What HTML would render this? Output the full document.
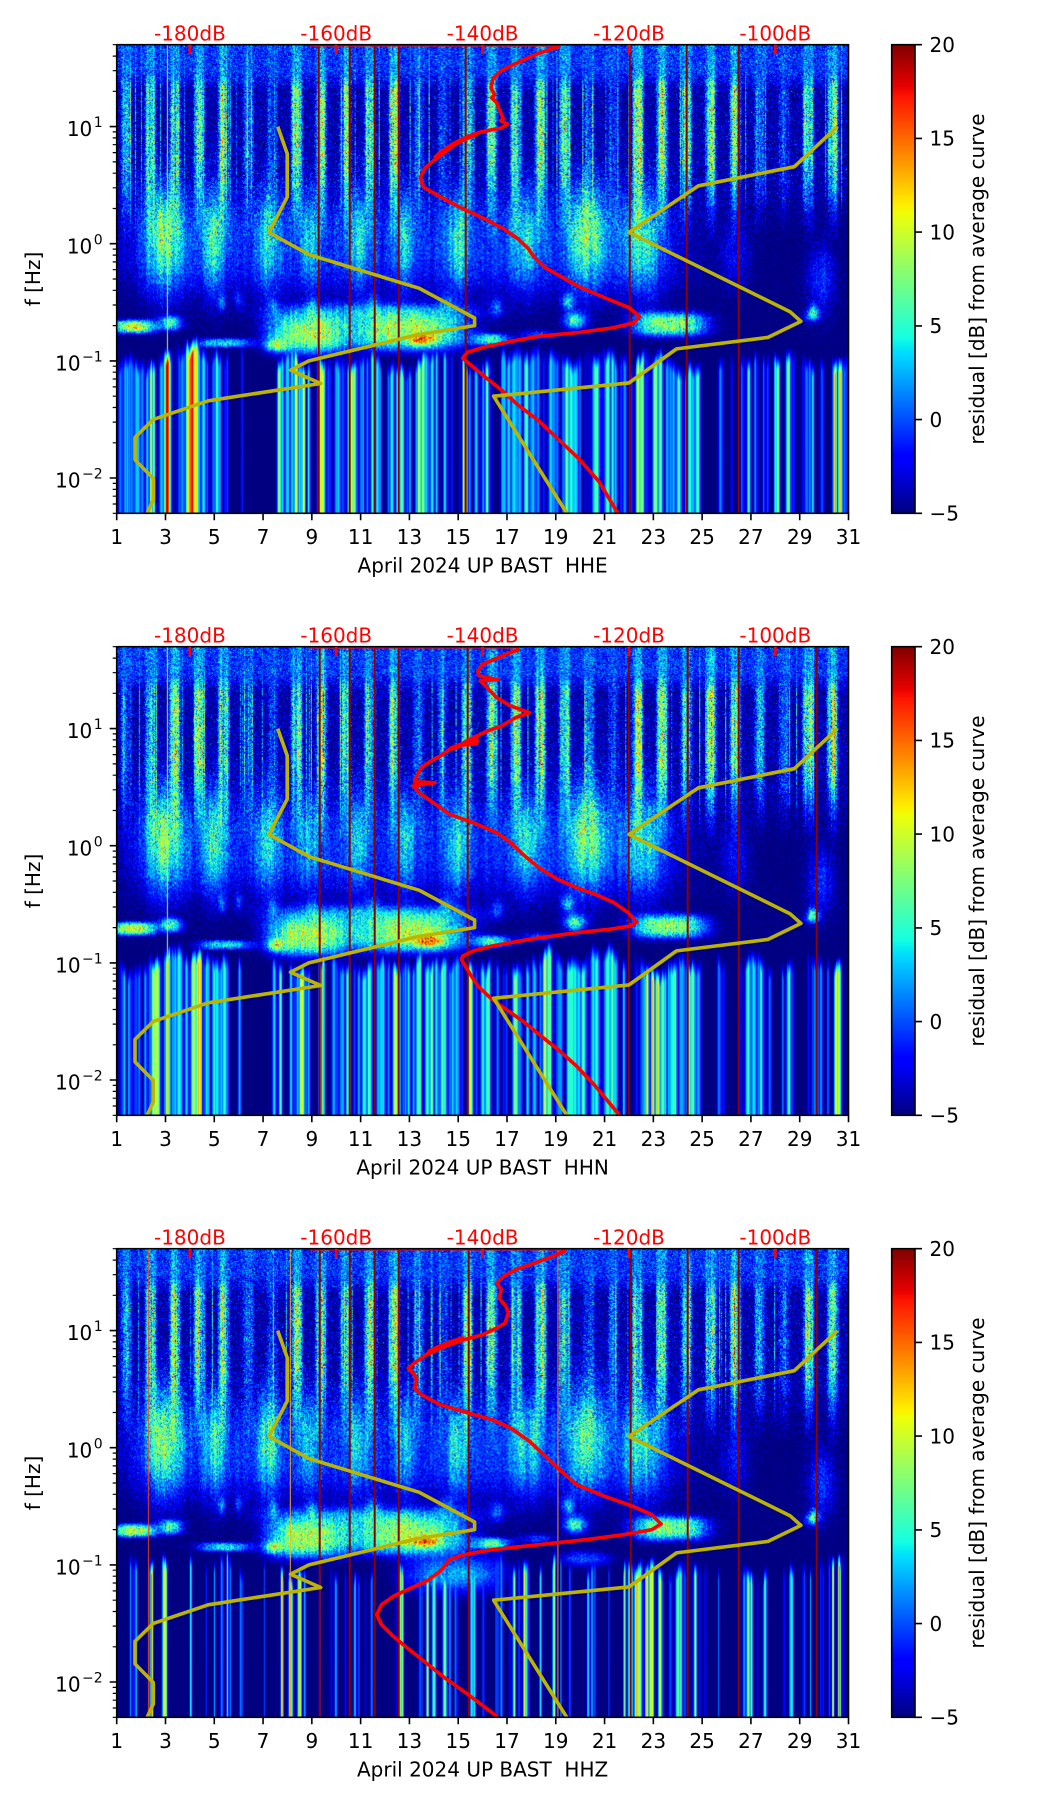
<!DOCTYPE html>
<html><head><meta charset="utf-8">
<style>
html,body{margin:0;padding:0;background:#fff;}
#fig{position:relative;width:1052px;height:1806px;overflow:hidden;background:#fff;}
canvas{position:absolute;display:block;}
svg{position:absolute;left:0;top:0;}
text{font-family:"DejaVu Sans","Liberation Sans",sans-serif;font-size:20px;}
</style></head><body>
<div id="fig">
<canvas id="c0" width="732" height="469" style="left:116.7px;top:44.7px;width:731.8px;height:468.6px"></canvas>
<canvas id="c1" width="732" height="469" style="left:116.7px;top:646.7px;width:731.8px;height:468.6px"></canvas>
<canvas id="c2" width="732" height="469" style="left:116.7px;top:1248.7px;width:731.8px;height:468.6px"></canvas>
<svg width="1052" height="1806" viewBox="0 0 1052 1806">
<defs>
<clipPath id="ax"><rect x="0" y="0" width="731.8" height="468.6"/></clipPath>
<linearGradient id="jet" x1="0" y1="1" x2="0" y2="0">
<stop offset="0" stop-color="#000080"/><stop offset="0.11" stop-color="#0000ff"/><stop offset="0.125" stop-color="#0000ff"/>
<stop offset="0.34" stop-color="#00dbff"/><stop offset="0.35" stop-color="#00e5f7"/><stop offset="0.375" stop-color="#14ffe2"/>
<stop offset="0.64" stop-color="#effe08"/><stop offset="0.65" stop-color="#f7f500"/><stop offset="0.66" stop-color="#ffec00"/>
<stop offset="0.89" stop-color="#ff1300"/><stop offset="0.91" stop-color="#e80000"/><stop offset="1" stop-color="#800000"/>
</linearGradient>
</defs>

<!-- ================= PANEL 1 ================= -->
<g transform="translate(116.7,44.7)">
<g clip-path="url(#ax)">
<path d="M202,0v469M233,0v469M258,0v469M282,0v469M349,0v469M513,0v469M570,0v469M622,0v469" stroke="#8c0000" stroke-width="2"/>
<polyline fill="none" stroke="#ff0000" stroke-width="3.6" stroke-linejoin="round" points="192,0 441.8,0 441.8,1.9 421.6,8.8 401.3,17.6 384.5,26 376.4,33.6 374.3,43.2 378,50 375,53 380,58 382.4,64.2 386.5,73.8 384,76 391.2,79.5 384.5,83.3 364.2,87.1 350.7,92.9 337.3,100.5 327.1,108.2 317,115.8 308.2,123.4 303.5,133 306.9,142.6 317,148.3 330.5,155.9 347.4,164.7 367.6,173.9 387.8,184.6 401.3,194.2 411.4,203.7 418.2,213.3 428.3,222.8 441.8,230.5 462,241.9 489,253.4 512.6,263 522.7,271.7 517.3,278.2 495.8,283.2 462,287.8 421.6,291.6 394.6,296.6 367.6,302.3 350.7,307.7 346,313.4 354.1,320.3 367.6,331.7 384.5,345.1 401.3,360.4 421.6,375.7 441.8,394.8 462,413.9 482.3,436.9 501.2,468.6 502,472"/>
<polyline fill="none" stroke="#ff0000" stroke-width="5" points="360,89 348,94 338,99 330,104 322,110 318,114"/>
<polyline fill="none" stroke="#bcb400" stroke-width="3.6" stroke-linejoin="round" points="161.0,81.9 170.5,108.9 170.5,152.4 152.2,187.7 192.5,210.0 302.6,243.6 357.9,273.3 357.9,280.9 300.0,290.2 192.1,316.2 173.8,325.5 204.0,338.8 91.5,356.1 36.6,374.7 18.3,392.7 18.3,415.2 36.6,433.8 36.6,455.3 30.4,468.6 29,472"/>
<polyline fill="none" stroke="#bcb400" stroke-width="3.6" stroke-linejoin="round" points="720.8,81.9 677.6,122.0 581.8,141.1 512.3,187.7 673.3,267.0 684.2,276.7 651.3,292.7 559.8,304.2 512.3,338.2 376.9,351.5 450.1,468.6 451.5,472"/>
</g>
<rect x="0" y="0" width="731.8" height="468.6" fill="none" stroke="#000" stroke-width="1.6"/>
<path d="M73.2,0v9.6M219.5,0v9.6M365.9,0v9.6M512.3,0v9.6M658.6,0v9.6" stroke="#ff0000" stroke-width="2.8"/>
<g fill="#ff0000" text-anchor="middle">
<text x="73.2" y="-4">-180dB</text><text x="219.5" y="-4">-160dB</text><text x="365.9" y="-4">-140dB</text><text x="512.3" y="-4">-120dB</text><text x="658.6" y="-4">-100dB</text>
</g>
<path d="M0,468.6v7M48.79,468.6v7M97.57,468.6v7M146.36,468.6v7M195.14,468.6v7M243.93,468.6v7M292.72,468.6v7M341.5,468.6v7M390.29,468.6v7M439.07,468.6v7M487.86,468.6v7M536.65,468.6v7M585.43,468.6v7M634.22,468.6v7M683,468.6v7M731.8,468.6v7" stroke="#000" stroke-width="1.6"/>
<g text-anchor="middle" fill="#000">
<text x="0" y="499.3">1</text><text x="48.79" y="499.3">3</text><text x="97.57" y="499.3">5</text><text x="146.36" y="499.3">7</text><text x="195.14" y="499.3">9</text><text x="243.93" y="499.3">11</text><text x="292.72" y="499.3">13</text><text x="341.5" y="499.3">15</text><text x="390.29" y="499.3">17</text><text x="439.07" y="499.3">19</text><text x="487.86" y="499.3">21</text><text x="536.65" y="499.3">23</text><text x="585.43" y="499.3">25</text><text x="634.22" y="499.3">27</text><text x="683" y="499.3">29</text><text x="731.8" y="499.3">31</text>
<text x="365.9" y="528" xml:space="preserve" style="white-space:pre">April 2024 UP BAST  HHE</text>
</g>
<path d="M0,81.9h-7M0,199h-7M0,316.2h-7M0,433.3h-7" stroke="#000" stroke-width="1.6"/>
<path d="M0,468.6h-4M0,459.3h-4M0,451.5h-4M0,444.7h-4M0,438.7h-4M0,398.1h-4M0,377.4h-4M0,362.8h-4M0,351.5h-4M0,342.2h-4M0,334.3h-4M0,327.5h-4M0,321.5h-4M0,280.9h-4M0,260.3h-4M0,245.6h-4M0,234.3h-4M0,225h-4M0,217.2h-4M0,210.4h-4M0,204.4h-4M0,163.8h-4M0,143.1h-4M0,128.5h-4M0,117.2h-4M0,107.9h-4M0,100h-4M0,93.2h-4M0,87.2h-4M0,46.6h-4M0,26h-4M0,11.4h-4M0,0h-4" stroke="#000" stroke-width="1.2"/>
<g text-anchor="end" fill="#000">
<text x="-14" y="91.5">10<tspan font-size="14" dx="1.5" dy="-9">1</tspan></text>
<text x="-14" y="208.6">10<tspan font-size="14" dx="1.5" dy="-9">0</tspan></text>
<text x="-14" y="325.8">10<tspan font-size="14" dx="1.5" dy="-9">−1</tspan></text>
<text x="-14" y="442.9">10<tspan font-size="14" dx="1.5" dy="-9">−2</tspan></text>
</g>
<text transform="translate(-76.7,234.3) rotate(-90)" text-anchor="middle">f [Hz]</text>
</g>
<g transform="translate(891.7,44.7)">
<rect x="0" y="0" width="23.3" height="468.6" fill="url(#jet)" stroke="#000" stroke-width="1.6"/>
<path d="M23.3,0h7M23.3,93.7h7M23.3,187.4h7M23.3,281.2h7M23.3,374.9h7M23.3,468.6h7" stroke="#000" stroke-width="1.6"/>
<g fill="#000"><text x="37.8" y="7.3">20</text><text x="37.8" y="101">15</text><text x="37.8" y="194.7">10</text><text x="37.8" y="288.5">5</text><text x="37.8" y="382.2">0</text><text x="37.8" y="475.9">−5</text></g>
<text transform="translate(92.3,234.3) rotate(-90)" text-anchor="middle">residual [dB] from average curve</text>
</g>

<!-- ================= PANEL 2 ================= -->
<g transform="translate(116.7,646.7)">
<g clip-path="url(#ax)">
<path d="M203,0v469M233,0v469M258,0v469M282,0v469M351,0v469M512,0v469M571,0v469M622,0v469M700,0v469" stroke="#8c0000" stroke-width="2"/>
<polyline fill="none" stroke="#ff0000" stroke-width="3.6" stroke-linejoin="round" points="192,0 401.1,0 401.1,3.3 389.3,7.6 377.6,12.6 365.8,17.6 361.1,24.3 362,29 381,33 363.5,34 370.5,41 380,51 394,59.3 412.8,66 398.7,71 384.6,79.3 370.5,84.3 356.4,91 347.1,96 360,97 340,99 332.9,102.6 323.5,109.3 314.2,114.3 304.7,121 300,129.3 298,135 318,136 296.3,139.3 302.4,146 314.1,154.3 332.9,167.6 356.4,176 380,186 394,196 408.1,209.3 422.2,221 441,232.6 459.8,241 478.6,247.6 497.4,256 511.5,266 520,275.3 513.9,279.3 492.7,282.6 459.8,286 412.8,292.6 375.2,299.3 356.4,304.3 346.1,309.3 344.7,312.6 349.4,321 361.1,339.3 375.2,352.6 389.3,362.6 408.1,376 422.2,387.6 441,402.6 459.8,419.3 478.6,439.3 502.1,467.6 503,472"/>
<polyline fill="none" stroke="#ff0000" stroke-width="5" points="362,93 350,96 340,100 334,102"/>
<polyline fill="none" stroke="#bcb400" stroke-width="3.6" stroke-linejoin="round" points="161.0,81.9 170.5,108.9 170.5,152.4 152.2,187.7 192.5,210.0 302.6,243.6 357.9,273.3 357.9,280.9 300.0,290.2 192.1,316.2 173.8,325.5 204.0,338.8 91.5,356.1 36.6,374.7 18.3,392.7 18.3,415.2 36.6,433.8 36.6,455.3 30.4,468.6 29,472"/>
<polyline fill="none" stroke="#bcb400" stroke-width="3.6" stroke-linejoin="round" points="720.8,81.9 677.6,122.0 581.8,141.1 512.3,187.7 673.3,267.0 684.2,276.7 651.3,292.7 559.8,304.2 512.3,338.2 376.9,351.5 450.1,468.6 451.5,472"/>
</g>
<rect x="0" y="0" width="731.8" height="468.6" fill="none" stroke="#000" stroke-width="1.6"/>
<path d="M73.2,0v9.6M219.5,0v9.6M365.9,0v9.6M512.3,0v9.6M658.6,0v9.6" stroke="#ff0000" stroke-width="2.8"/>
<g fill="#ff0000" text-anchor="middle">
<text x="73.2" y="-4">-180dB</text><text x="219.5" y="-4">-160dB</text><text x="365.9" y="-4">-140dB</text><text x="512.3" y="-4">-120dB</text><text x="658.6" y="-4">-100dB</text>
</g>
<path d="M0,468.6v7M48.79,468.6v7M97.57,468.6v7M146.36,468.6v7M195.14,468.6v7M243.93,468.6v7M292.72,468.6v7M341.5,468.6v7M390.29,468.6v7M439.07,468.6v7M487.86,468.6v7M536.65,468.6v7M585.43,468.6v7M634.22,468.6v7M683,468.6v7M731.8,468.6v7" stroke="#000" stroke-width="1.6"/>
<g text-anchor="middle" fill="#000">
<text x="0" y="499.3">1</text><text x="48.79" y="499.3">3</text><text x="97.57" y="499.3">5</text><text x="146.36" y="499.3">7</text><text x="195.14" y="499.3">9</text><text x="243.93" y="499.3">11</text><text x="292.72" y="499.3">13</text><text x="341.5" y="499.3">15</text><text x="390.29" y="499.3">17</text><text x="439.07" y="499.3">19</text><text x="487.86" y="499.3">21</text><text x="536.65" y="499.3">23</text><text x="585.43" y="499.3">25</text><text x="634.22" y="499.3">27</text><text x="683" y="499.3">29</text><text x="731.8" y="499.3">31</text>
<text x="365.9" y="528" xml:space="preserve" style="white-space:pre">April 2024 UP BAST  HHN</text>
</g>
<path d="M0,81.9h-7M0,199h-7M0,316.2h-7M0,433.3h-7" stroke="#000" stroke-width="1.6"/>
<path d="M0,468.6h-4M0,459.3h-4M0,451.5h-4M0,444.7h-4M0,438.7h-4M0,398.1h-4M0,377.4h-4M0,362.8h-4M0,351.5h-4M0,342.2h-4M0,334.3h-4M0,327.5h-4M0,321.5h-4M0,280.9h-4M0,260.3h-4M0,245.6h-4M0,234.3h-4M0,225h-4M0,217.2h-4M0,210.4h-4M0,204.4h-4M0,163.8h-4M0,143.1h-4M0,128.5h-4M0,117.2h-4M0,107.9h-4M0,100h-4M0,93.2h-4M0,87.2h-4M0,46.6h-4M0,26h-4M0,11.4h-4M0,0h-4" stroke="#000" stroke-width="1.2"/>
<g text-anchor="end" fill="#000">
<text x="-14" y="91.5">10<tspan font-size="14" dx="1.5" dy="-9">1</tspan></text>
<text x="-14" y="208.6">10<tspan font-size="14" dx="1.5" dy="-9">0</tspan></text>
<text x="-14" y="325.8">10<tspan font-size="14" dx="1.5" dy="-9">−1</tspan></text>
<text x="-14" y="442.9">10<tspan font-size="14" dx="1.5" dy="-9">−2</tspan></text>
</g>
<text transform="translate(-76.7,234.3) rotate(-90)" text-anchor="middle">f [Hz]</text>
</g>
<g transform="translate(891.7,646.7)">
<rect x="0" y="0" width="23.3" height="468.6" fill="url(#jet)" stroke="#000" stroke-width="1.6"/>
<path d="M23.3,0h7M23.3,93.7h7M23.3,187.4h7M23.3,281.2h7M23.3,374.9h7M23.3,468.6h7" stroke="#000" stroke-width="1.6"/>
<g fill="#000"><text x="37.8" y="7.3">20</text><text x="37.8" y="101">15</text><text x="37.8" y="194.7">10</text><text x="37.8" y="288.5">5</text><text x="37.8" y="382.2">0</text><text x="37.8" y="475.9">−5</text></g>
<text transform="translate(92.3,234.3) rotate(-90)" text-anchor="middle">residual [dB] from average curve</text>
</g>

<!-- ================= PANEL 3 ================= -->
<g transform="translate(116.7,1248.7)">
<g clip-path="url(#ax)">
<path d="M203,0v469M233,0v469M258,0v469M282,0v469M352,0v469M514,0v469M571,0v469M622,0v469M700,0v469" stroke="#8c0000" stroke-width="2"/>
<polyline fill="none" stroke="#ff0000" stroke-width="3.6" stroke-linejoin="round" points="192,0 448.1,0 448.1,2.6 431.6,9.3 412.8,16 398.7,21 387,27.6 380,34.3 384.6,41 382.3,49.3 389.3,57.6 391.7,64.3 388.4,74.3 380,79.3 365.8,86 347.1,91 332.9,94.3 318.8,99.3 309.5,106 300,112.6 291.6,119.3 297.7,126 300,132.6 297.7,139.3 304.7,146 323.5,156 351.7,164.3 375.2,171 394,179.3 412.8,192.6 427,206 441,219.3 459.8,236 488,247.6 516.2,257.6 535,266 544.4,275.3 535,281 506.8,286 469.2,291 422.2,296 375.2,301 347.1,306 332.9,311 323.5,322.6 309.5,332.6 290.6,341 276.6,347.6 264.8,356 260.1,366 264.8,376 276.6,387.6 290.6,399.3 309.5,414.3 328.2,429.3 351.7,446 380,467.6 382,472"/>
<polyline fill="none" stroke="#ff0000" stroke-width="6" points="347,90 335,94 322,99 312,104"/>
<polyline fill="none" stroke="#bcb400" stroke-width="3.6" stroke-linejoin="round" points="161.0,81.9 170.5,108.9 170.5,152.4 152.2,187.7 192.5,210.0 302.6,243.6 357.9,273.3 357.9,280.9 300.0,290.2 192.1,316.2 173.8,325.5 204.0,338.8 91.5,356.1 36.6,374.7 18.3,392.7 18.3,415.2 36.6,433.8 36.6,455.3 30.4,468.6 29,472"/>
<polyline fill="none" stroke="#bcb400" stroke-width="3.6" stroke-linejoin="round" points="720.8,81.9 677.6,122.0 581.8,141.1 512.3,187.7 673.3,267.0 684.2,276.7 651.3,292.7 559.8,304.2 512.3,338.2 376.9,351.5 450.1,468.6 451.5,472"/>
</g>
<rect x="0" y="0" width="731.8" height="468.6" fill="none" stroke="#000" stroke-width="1.6"/>
<path d="M73.2,0v9.6M219.5,0v9.6M365.9,0v9.6M512.3,0v9.6M658.6,0v9.6" stroke="#ff0000" stroke-width="2.8"/>
<g fill="#ff0000" text-anchor="middle">
<text x="73.2" y="-4">-180dB</text><text x="219.5" y="-4">-160dB</text><text x="365.9" y="-4">-140dB</text><text x="512.3" y="-4">-120dB</text><text x="658.6" y="-4">-100dB</text>
</g>
<path d="M0,468.6v7M48.79,468.6v7M97.57,468.6v7M146.36,468.6v7M195.14,468.6v7M243.93,468.6v7M292.72,468.6v7M341.5,468.6v7M390.29,468.6v7M439.07,468.6v7M487.86,468.6v7M536.65,468.6v7M585.43,468.6v7M634.22,468.6v7M683,468.6v7M731.8,468.6v7" stroke="#000" stroke-width="1.6"/>
<g text-anchor="middle" fill="#000">
<text x="0" y="499.3">1</text><text x="48.79" y="499.3">3</text><text x="97.57" y="499.3">5</text><text x="146.36" y="499.3">7</text><text x="195.14" y="499.3">9</text><text x="243.93" y="499.3">11</text><text x="292.72" y="499.3">13</text><text x="341.5" y="499.3">15</text><text x="390.29" y="499.3">17</text><text x="439.07" y="499.3">19</text><text x="487.86" y="499.3">21</text><text x="536.65" y="499.3">23</text><text x="585.43" y="499.3">25</text><text x="634.22" y="499.3">27</text><text x="683" y="499.3">29</text><text x="731.8" y="499.3">31</text>
<text x="365.9" y="528" xml:space="preserve" style="white-space:pre">April 2024 UP BAST  HHZ</text>
</g>
<path d="M0,81.9h-7M0,199h-7M0,316.2h-7M0,433.3h-7" stroke="#000" stroke-width="1.6"/>
<path d="M0,468.6h-4M0,459.3h-4M0,451.5h-4M0,444.7h-4M0,438.7h-4M0,398.1h-4M0,377.4h-4M0,362.8h-4M0,351.5h-4M0,342.2h-4M0,334.3h-4M0,327.5h-4M0,321.5h-4M0,280.9h-4M0,260.3h-4M0,245.6h-4M0,234.3h-4M0,225h-4M0,217.2h-4M0,210.4h-4M0,204.4h-4M0,163.8h-4M0,143.1h-4M0,128.5h-4M0,117.2h-4M0,107.9h-4M0,100h-4M0,93.2h-4M0,87.2h-4M0,46.6h-4M0,26h-4M0,11.4h-4M0,0h-4" stroke="#000" stroke-width="1.2"/>
<g text-anchor="end" fill="#000">
<text x="-14" y="91.5">10<tspan font-size="14" dx="1.5" dy="-9">1</tspan></text>
<text x="-14" y="208.6">10<tspan font-size="14" dx="1.5" dy="-9">0</tspan></text>
<text x="-14" y="325.8">10<tspan font-size="14" dx="1.5" dy="-9">−1</tspan></text>
<text x="-14" y="442.9">10<tspan font-size="14" dx="1.5" dy="-9">−2</tspan></text>
</g>
<text transform="translate(-76.7,234.3) rotate(-90)" text-anchor="middle">f [Hz]</text>
</g>
<g transform="translate(891.7,1248.7)">
<rect x="0" y="0" width="23.3" height="468.6" fill="url(#jet)" stroke="#000" stroke-width="1.6"/>
<path d="M23.3,0h7M23.3,93.7h7M23.3,187.4h7M23.3,281.2h7M23.3,374.9h7M23.3,468.6h7" stroke="#000" stroke-width="1.6"/>
<g fill="#000"><text x="37.8" y="7.3">20</text><text x="37.8" y="101">15</text><text x="37.8" y="194.7">10</text><text x="37.8" y="288.5">5</text><text x="37.8" y="382.2">0</text><text x="37.8" y="475.9">−5</text></g>
<text transform="translate(92.3,234.3) rotate(-90)" text-anchor="middle">residual [dB] from average curve</text>
</g>
</svg>
</div>
<script>
(function(){
var W=732,H=469,PXD=731.8/30,PXL=117.15;
function interp(t,xs,ys){for(var i=1;i<xs.length;i++){if(t<=xs[i]){var u=(t-xs[i-1])/(xs[i]-xs[i-1]);return ys[i-1]+u*(ys[i]-ys[i-1]);}}return ys[ys.length-1];}
var LUT=[];for(var i=0;i<256;i++){var t=i/255;LUT.push([
Math.round(255*interp(t,[0,0.35,0.66,0.89,1],[0,0,1,1,0.5])),
Math.round(255*interp(t,[0,0.125,0.375,0.64,0.91,1],[0,0,1,1,0,0])),
Math.round(255*interp(t,[0,0.11,0.34,0.65,1],[0.5,1,1,0,0]))]);}
var DF={1:0.55,6:0.45,7:0.35,13:0.5,14:0.4,20:0.5,21:0.4,27:0.5,28:0.4};
/* [dayCenter, dayHalfWidth, log10fCenter, lfHalfWidth, amp, pDay, pLf] */
var BLOBS=[
[12.8,11.7,-0.02,0.42,4.5,8,2.5],
[2.9,0.8,0.05,0.45,9.5,2,2],[5.0,0.45,0.05,0.45,6.5,2,2],[7.2,0.4,0.05,0.45,6.5,2,2],[8.9,0.4,0.05,0.42,5,2,2],
[10.9,0.45,0.05,0.42,5.5,2,2],[12.8,0.4,0.05,0.42,5,2,2],[15.0,0.45,0.0,0.42,6,2,2],[17.8,0.6,0.05,0.42,5,2,2],
[20.3,0.75,0.08,0.45,8.5,2,2],[22.6,0.8,0.02,0.45,7,2,2],
[26.4,0.6,-0.1,0.3,3.5,2,2],[29.9,0.6,-0.3,0.3,4.5,2,2],
[5.3,0.15,-0.5,0.07,5,2,2],[6.0,0.15,-0.48,0.07,4,2,2],[7.4,0.2,-0.52,0.08,4,2,2],[9.0,0.2,-0.52,0.08,4,2,2],[11.5,0.3,-0.5,0.08,4,2,2],
[14.5,0.3,-0.5,0.08,4,2,2],[16.6,0.3,-0.55,0.08,4,2,2],[19.5,0.25,-0.5,0.07,8,2,2],[29.6,0.2,-0.58,0.06,7,2,2]];
var BANDBASE=[
[1.7,0.85,-0.71,0.055,15,3,3],[3.2,0.45,-0.68,0.06,11,2,3],[5.4,1.1,-0.85,0.04,9,3,3],
[8.8,1.6,-0.77,0.17,14,3,3],[12.9,2.4,-0.75,0.16,14,3,3],[11.5,4.2,-0.57,0.07,5,3,2],
[16.4,0.7,-0.82,0.05,11,2,3],[18.3,0.7,-0.78,0.04,5,2,2],[19.8,0.45,-0.66,0.07,11,2,2],
[23.7,1.5,-0.69,0.1,13,3,3],[29.5,0.3,-0.62,0.05,6,2,2]];
var BANDS=[
BANDBASE.concat([[7.5,0.4,-0.87,0.05,9,2,2],[13.6,0.5,-0.82,0.05,9,2,2]]),
BANDBASE.concat([[7.55,0.35,-0.85,0.05,9,2,2],[13.8,0.6,-0.82,0.05,9,2,2]]),
BANDBASE.concat([[7.4,0.35,-0.85,0.05,9,2,2],[13.7,0.5,-0.80,0.05,9,2,2],[14.8,2.0,-1.08,0.16,8,3,2],[20.2,1.0,-0.95,0.06,6,2,2]])];
/* [dayStart, dayEnd, count, vmin, vmax, hwMin(px), hwMax(px)] */
var STREAKS=[
[[1.0,1.8,3,-1,4,1,3],[2.1,2.6,3,8,12,1,2.5],[2.95,3.15,2,18,20,2.5,3.5],[3.6,4.4,3,8,14,1,2.5],[3.9,4.25,2,15,18,3,4],[4.5,5.1,3,3,7,1.5,3],[5.5,5.55,1,-1,1,1,1.5],[6.1,6.15,1,-2,0,1,1.5],[7.55,7.65,1,8,11,1.5,2],[8.3,8.7,2,11,15,1.5,3],[9.25,9.7,2,7,11,1.5,3],[10.3,11.0,4,5,11,1.5,3],[11.4,11.6,1,4,7,1,2],[12.2,12.7,2,7,11,1.5,3],[13.2,13.8,3,6,12,1.5,3],[14.0,14.5,2,2,6,1,2],[15.0,15.5,2,9,14,1,2.5],[15.8,16.3,2,4,8,1.5,3],[17.2,18.0,3,2,7,1.5,3],[18.3,20.0,7,2,8,1.5,3],[20.5,21.6,5,3,9,1.5,3],[22.2,23.3,5,5,12,1.5,3],[23.8,24.9,5,2,7,1.5,3],[25.5,26.3,3,-2,2,1,2],[26.9,27.4,2,4,8,1.5,2.5],[28.0,28.6,3,6,12,1.5,2.5],[29.3,29.7,2,0,5,1,2],[30.4,30.7,2,11,15,1.5,2.5],
 [1,5.5,40,-3,4,1,2.5],[7.4,25,140,-3,5,1,2.5],[25,31,20,-3,2,1,2]],
[[1.2,1.8,3,-1,4,1,3],[2.35,2.7,3,9,13,1.5,3],[3.0,3.2,2,12,16,1,2],[3.3,3.7,3,3,7,1.5,3],[3.9,4.4,4,10,15,1.5,3],[4.65,5.4,5,3,7,1.5,3],[6.0,6.1,1,3,6,1,1.5],[7.6,7.7,1,6,9,1.5,2],[8.4,8.6,2,10,13,1.5,2.5],[8.8,8.85,1,3,5,1,1.5],[9.3,9.5,2,10,14,1,2],[10.4,10.6,2,6,10,1.5,2.5],[11.0,11.4,3,4,8,1.5,2.5],[12.4,12.7,2,9,12,1.5,2.5],[13.3,14.5,6,4,9,1.5,3],[15.3,15.6,2,8,12,1.5,2.5],[15.8,16.4,3,3,7,1.5,3],[17.2,18.0,4,4,10,1.5,3],[18.3,18.9,3,7,11,1.5,3],[19.3,20.3,6,3,8,1.5,3],[20.5,22.0,8,3,8,1.5,3],[22.4,23.2,4,8,13,1.5,3],[23.3,24.7,6,2,7,1.5,3],[25.5,26.0,2,-2,2,1,2],[26.8,27.6,3,3,7,1.5,3],[28.4,28.7,2,3,7,1.5,2.5],[29.5,29.9,2,-1,3,1,2],[30.4,30.7,2,10,14,1.5,2.5],
 [1,5.5,40,-3,4,1,2.5],[7.4,25,140,-3,5,1,2.5],[25,31,20,-3,2,1,2]],
[[1.4,1.8,2,2,6,0.8,1.5],[2.35,2.55,1,15,17,1,1.5],[2.9,3.1,2,10,14,1,2],[3.9,4.1,1,3,6,1,1.5],[5.5,5.6,1,6,9,0.8,1.2],[7.65,7.85,1,10,13,1,1.5],[8.1,8.6,3,11,15,1,2],[10.7,10.75,1,4,7,1,1.5],[12.5,12.7,2,8,11,1,1.5],[13.3,14.5,5,5,11,1,2.5],[15.5,15.8,2,4,8,1,2],[17.2,17.8,3,8,13,1,2],[18.2,18.4,1,4,7,1,1.5],[18.9,19.2,1,9,12,1,1.5],[20.3,20.6,2,3,7,1,1.5],[21.8,23.3,8,8,16,1,2.5],[23.7,24.3,3,4,8,1,2],[24.7,24.75,1,10,12,1,1.5],[26.8,27.6,3,5,10,1,2],[28.4,28.7,2,3,7,1,1.5],[30.3,30.7,2,11,16,1,2],
 [1,31,70,-3,3,0.6,1.4]]];
var LINES=[[[49.8,9]],[[49.6,9]],[[31.3,16],[173.2,13],[441,14]]];

function render(p){
 var cv=document.getElementById('c'+p);if(!cv)return;
 var ctx=cv.getContext('2d');var im=ctx.createImageData(W,H),D=im.data;
 var s=(2463534242+p*977)>>>0;
 function r(){s=(s^(s<<13))>>>0;s=(s^(s>>>17))>>>0;s=(s^(s<<5))>>>0;return s/4294967296;}
 var NG=8192,G=new Float32Array(NG);
 for(var i=0;i<NG;i++){var u=Math.max(r(),1e-7),v=r();G[i]=Math.sqrt(-2*Math.log(u))*Math.cos(6.283185*v);}
 var days=new Float32Array(W),lfs=new Float32Array(H),x,y;
 for(x=0;x<W;x++)days[x]=1+(x+0.5)/PXD;
 for(y=0;y<H;y++)lfs[y]=1.69897-(y+0.5)/PXL;
 var stripe=new Float32Array(W),prev=1;
 for(x=0;x<W;x++){var d=days[x],n=Math.floor(d),f=d-n,df=DF[n]||1;
  var cm=0.35+1.3*r();cm=0.55*cm+0.45*prev;prev=cm;
  stripe[x]=10*df*Math.exp(-Math.pow((f-0.38)/0.22,4))*cm;
  if(r()<0.05)stripe[x]+=3+6*r();}
 var sp=new Float32Array(H),base=new Float32Array(H),sb=new Float32Array(H);
 for(y=0;y<H;y++){
  var a;
  if(y<28)a=0.3;else if(y<45)a=0.3+0.7*(y-28)/17;else if(y<115)a=1;else if(y<170)a=1-0.75*(y-115)/55;else if(y<200)a=0.25*(1-(y-170)/30);else a=0;
  sp[y]=a;
  var b;
  if(y<26)b=-1.0;else if(y<45)b=-1.0-3.2*(y-26)/19;else if(y<140)b=-4.2;else if(y<190)b=-4.2-1.3*(y-140)/50;else b=-5.5;
  base[y]=b;
  var g;
  if(y<130)g=1.7;else if(y<200)g=1.7-1.0*(y-130)/70;else if(y<290)g=0.7;else if(y<320)g=0.7-0.4*(y-290)/30;else g=0.3;
  sb[y]=g;}
 var els=[],isBlob=[];
 BLOBS.forEach(function(e){els.push(e);isBlob.push(1);});
 BANDS[p].forEach(function(e){els.push(e);isBlob.push(0);});
 var NE=els.length,colF=[],rowF=[],amp=[];
 for(var k=0;k<NE;k++){var e=els[k];var cf=new Float32Array(W),rf=new Float32Array(H);
  for(x=0;x<W;x++)cf[x]=Math.exp(-Math.pow(Math.abs((days[x]-e[0])/e[1]),e[5]));
  for(y=0;y<H;y++)rf[y]=Math.exp(-Math.pow(Math.abs((lfs[y]-e[2])/e[3]),e[6]));
  colF.push(cf);rowF.push(rf);amp.push(e[4]);}
 var cmod=new Float32Array(W),bmod=new Float32Array(W),pm=1;
 for(x=0;x<W;x++){var q=0.7+0.6*r();pm=0.5*q+0.5*pm;cmod[x]=pm;bmod[x]=0.88+0.24*r();}
 var S=new Float32Array(W),top=new Float32Array(W);
 STREAKS[p].forEach(function(sp2){
  for(var k2=0;k2<sp2[2];k2++){
   var cx=((sp2[0]+(sp2[1]-sp2[0])*r())-1)*PXD,hw=sp2[5]+(sp2[6]-sp2[5])*r(),A=sp2[3]+(sp2[4]-sp2[3])*r()+5;
   var x0=Math.max(0,Math.floor(cx-3*hw)),x1=Math.min(W-1,Math.ceil(cx+3*hw));
   for(var xx=x0;xx<=x1;xx++){var dd=(xx-cx)/hw;var val=A*Math.exp(-dd*dd);if(val>S[xx])S[xx]=val;}
  }});
 var tt=308;for(x=0;x<W;x++){tt+=(r()-0.5)*9;tt=0.93*tt+0.07*308;top[x]=tt;}
 var Lc=new Float32Array(W);
 LINES[p].forEach(function(l){var xi=Math.round(l[0]);if(xi>=0&&xi<W)Lc[xi]=l[1]+5;});
 for(y=0;y<H;y++){
  var b2=base[y],s2=sp[y],g2=sb[y],act=[];
  for(var k3=0;k3<NE;k3++)if(rowF[k3][y]>0.005)act.push(k3);
  var na=act.length;
  for(x=0;x<W;x++){
   var sg=stripe[x]*s2,bl=0,bd=0;
   for(var j=0;j<na;j++){var e2=act[j];var vv=amp[e2]*colF[e2][x]*rowF[e2][y];if(isBlob[e2])bl+=vv;else bd+=vv;}
   bl*=cmod[x];bd*=bmod[x];
   var v2=b2+sg+bl+bd;
   var sigma=g2+0.15*sg+0.15*bl+0.12*bd;
   v2+=sigma*G[(r()*NG)|0];
   var tp=top[x];
   if(y>tp){var pr=Math.min(1,(y-tp)/16);var sv=-5+S[x]*pr;if(sv>v2)v2=sv;}
   if(Lc[x]>0){var lv=-5+Lc[x];if(lv>v2)v2=lv;}
   var ti=Math.round((v2+5)/25*255);if(ti<0)ti=0;else if(ti>255)ti=255;
   var c=LUT[ti],idx=(y*W+x)*4;D[idx]=c[0];D[idx+1]=c[1];D[idx+2]=c[2];D[idx+3]=255;
  }}
 ctx.putImageData(im,0,0);
}
for(var p=0;p<3;p++){try{render(p);}catch(err){}}
})();
</script>
</body></html>
